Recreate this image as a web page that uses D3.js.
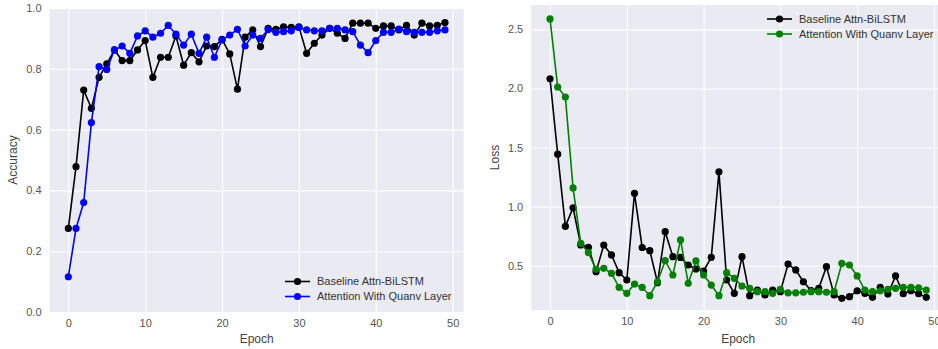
<!DOCTYPE html>
<html>
<head>
<meta charset="utf-8">
<script src="https://cdn.jsdelivr.net/npm/d3@7"></script>
<style>
  body { margin: 0; background: #fff; }
  svg { display: block; font-family: "Liberation Sans", Arial, sans-serif; }
  .tick text { fill: #555; font-size: 11px; }
  .axis-label { fill: #444; font-size: 12px; }
  .legend text { fill: #333; font-size: 11px; }
</style>
</head>
<body>
<div id="chart"></div>
<script>
const epochs = d3.range(50);

const accBaseline = [0.275, 0.478, 0.730, 0.670, 0.772, 0.816, 0.862, 0.827, 0.827, 0.862,
  0.893, 0.772, 0.838, 0.838, 0.908, 0.812, 0.853, 0.823, 0.875, 0.873,
  0.897, 0.849, 0.733, 0.904, 0.928, 0.873, 0.933, 0.930, 0.938, 0.936,
  0.938, 0.851, 0.884, 0.911, 0.933, 0.917, 0.900, 0.950, 0.950, 0.950,
  0.933, 0.941, 0.941, 0.928, 0.943, 0.911, 0.950, 0.941, 0.943, 0.952];

const accQuanv = [0.116, 0.275, 0.360, 0.623, 0.807, 0.798, 0.862, 0.875, 0.851, 0.908,
  0.925, 0.904, 0.917, 0.943, 0.914, 0.878, 0.914, 0.851, 0.904, 0.838,
  0.895, 0.911, 0.930, 0.875, 0.911, 0.900, 0.929, 0.920, 0.922, 0.925,
  0.936, 0.928, 0.925, 0.925, 0.933, 0.933, 0.928, 0.922, 0.878, 0.853,
  0.893, 0.920, 0.920, 0.931, 0.922, 0.920, 0.920, 0.920, 0.925, 0.928];

const lossBaseline = [2.082, 1.444, 0.833, 0.990, 0.675, 0.656, 0.449, 0.675, 0.591, 0.441,
  0.379, 1.112, 0.654, 0.627, 0.356, 0.788, 0.576, 0.570, 0.506, 0.472,
  0.455, 0.571, 1.294, 0.379, 0.266, 0.576, 0.246, 0.294, 0.252, 0.294,
  0.280, 0.514, 0.464, 0.364, 0.290, 0.308, 0.492, 0.252, 0.224, 0.238,
  0.288, 0.266, 0.232, 0.317, 0.260, 0.413, 0.263, 0.288, 0.263, 0.232];

const lossQuanv = [2.588, 2.012, 1.927, 1.158, 0.690, 0.610, 0.469, 0.478, 0.435, 0.317,
  0.266, 0.345, 0.317, 0.246, 0.364, 0.542, 0.421, 0.718, 0.351, 0.540,
  0.421, 0.336, 0.246, 0.441, 0.393, 0.328, 0.308, 0.280, 0.280, 0.266,
  0.300, 0.270, 0.270, 0.275, 0.280, 0.280, 0.275, 0.280, 0.520, 0.506,
  0.413, 0.294, 0.280, 0.288, 0.300, 0.308, 0.317, 0.317, 0.313, 0.294];

const seriesNames = ['Baseline Attn-BiLSTM', 'Attention With Quanv Layer'];
const xTicks = [0, 10, 20, 30, 40, 50];
const accTicks = [0, 0.2, 0.4, 0.6, 0.8, 1.0];
const lossTicks = [0.5, 1.0, 1.5, 2.0, 2.5];

const width = 938, height = 349;

const svg = d3.select('#chart').append('svg')
  .attr('width', width)
  .attr('height', height);

function drawPanel(opts) {
  const { xRange, yRange, yDomain, yTicks, yLabel, yLabelX, series, legend } = opts;

  const x = d3.scaleLinear().domain([-2.45, 51.45]).range(xRange);
  const y = d3.scaleLinear().domain(yDomain).range(yRange);

  const g = svg.append('g');

  g.append('rect')
    .attr('x', xRange[0])
    .attr('y', yRange[1])
    .attr('width', xRange[1] - xRange[0])
    .attr('height', yRange[0] - yRange[1])
    .attr('fill', '#eaeaf2');

  // grid + tick labels
  const xAxis = g.append('g')
    .attr('transform', `translate(0,${yRange[0]})`)
    .call(d3.axisBottom(x).tickValues(xTicks).tickSize(-(yRange[0] - yRange[1])).tickPadding(7).tickFormat(d3.format('d')));
  const yAxis = g.append('g')
    .attr('transform', `translate(${xRange[0]},0)`)
    .call(d3.axisLeft(y).tickValues(yTicks).tickSize(-(xRange[1] - xRange[0])).tickPadding(8).tickFormat(d3.format('.1f')));

  [xAxis, yAxis].forEach(a => {
    a.select('.domain').remove();
    a.selectAll('.tick line').attr('stroke', '#fff').attr('stroke-width', 1.1);
    a.selectAll('.tick text').attr('font-family', null).attr('font-size', null);
  });
  xAxis.attr('font-family', null).attr('font-size', null);
  yAxis.attr('font-family', null).attr('font-size', null);

  g.append('text')
    .attr('class', 'axis-label')
    .attr('x', (xRange[0] + xRange[1]) / 2)
    .attr('y', 343)
    .attr('text-anchor', 'middle')
    .text('Epoch');

  g.append('text')
    .attr('class', 'axis-label')
    .attr('transform', `translate(${yLabelX},${(yRange[0] + yRange[1]) / 2}) rotate(-90)`)
    .attr('text-anchor', 'middle')
    .text(yLabel);

  const line = d3.line()
    .x((d, i) => x(epochs[i]))
    .y(d => y(d));

  series.forEach(s => {
    g.append('path')
      .datum(s.values)
      .attr('fill', 'none')
      .attr('stroke', s.color)
      .attr('stroke-width', 1.6)
      .attr('d', line);

    g.selectAll(null)
      .data(s.values)
      .enter()
      .append('circle')
      .attr('cx', (d, i) => x(epochs[i]))
      .attr('cy', d => y(d))
      .attr('r', 3.6)
      .attr('fill', s.color);
  });

  const lg = g.append('g')
    .attr('class', 'legend')
    .attr('transform', `translate(${legend.x},${legend.y})`);

  series.forEach((s, i) => {
    const row = lg.append('g').attr('transform', `translate(0,${i * 15})`);
    row.append('line')
      .attr('x1', 0).attr('x2', 25)
      .attr('stroke', s.color)
      .attr('stroke-width', 1.6);
    row.append('circle')
      .attr('cx', 12.5).attr('r', 3.6)
      .attr('fill', s.color);
    row.append('text')
      .attr('x', 32)
      .attr('dy', '0.35em')
      .text(s.name);
  });
}

drawPanel({
  xRange: [49.5, 463.8],
  yRange: [312, 8],
  yDomain: [0, 1],
  yTicks: accTicks,
  yLabel: 'Accuracy',
  yLabelX: 17,
  series: [
    { name: seriesNames[0], values: accBaseline, color: '#000000' },
    { name: seriesNames[1], values: accQuanv, color: '#0000ff' }
  ],
  legend: { x: 285, y: 281.5 }
});

drawPanel({
  xRange: [531.2, 945.1],
  yRange: [310, 5],
  yDomain: [0.125, 2.706],
  yTicks: lossTicks,
  yLabel: 'Loss',
  yLabelX: 499,
  series: [
    { name: seriesNames[0], values: lossBaseline, color: '#000000' },
    { name: seriesNames[1], values: lossQuanv, color: '#008000' }
  ],
  legend: { x: 767, y: 19 }
});
</script>
</body>
</html>
